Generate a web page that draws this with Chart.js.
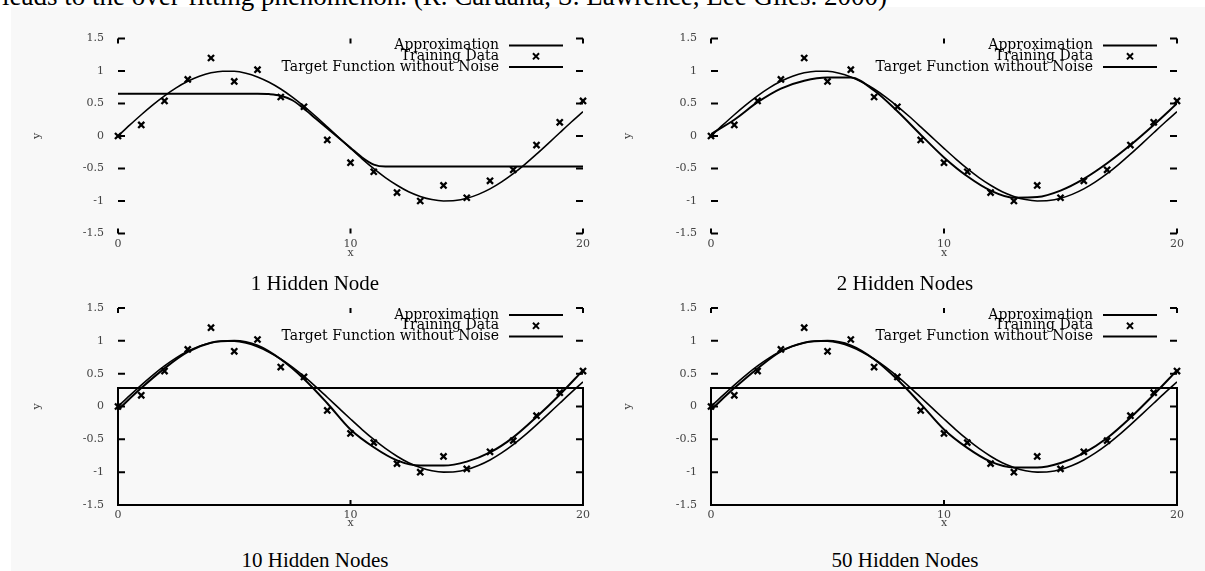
<!DOCTYPE html>
<html><head><meta charset="utf-8">
<script src="https://cdn.jsdelivr.net/npm/chart.js@4.4.1/dist/chart.umd.min.js"></script>
<style>
html,body{margin:0;padding:0;background:#fff;width:1205px;height:571px;overflow:hidden;position:relative;}
#panel{position:absolute;left:11px;top:7px;right:0;bottom:0;background:#f8f8f8;}
.cw{position:absolute;width:600px;height:270px;}
.title{position:absolute;width:300px;text-align:center;font-family:"Liberation Serif","Times New Roman",serif;font-size:21px;line-height:24px;color:#000;white-space:nowrap;}
#top{position:absolute;left:2px;top:-17px;white-space:nowrap;font-family:"Liberation Serif","Times New Roman",serif;font-size:27px;line-height:27px;color:#000;}
</style></head><body>
<div id="panel"></div>
<div id="top">leads to the over-fitting phenomenon. (R. Caruana, S. Lawrence, Lee Giles. 2000)</div>
<div class="cw" style="left:0;top:0"><canvas id="c0" width="600" height="270"></canvas></div>
<div class="cw" style="left:600px;top:0"><canvas id="c1" width="600" height="270"></canvas></div>
<div class="cw" style="left:0;top:270px"><canvas id="c2" width="600" height="270"></canvas></div>
<div class="cw" style="left:600px;top:270px"><canvas id="c3" width="600" height="270"></canvas></div>
<script>
// ---------- data ----------
const panelTitles = ['1 Hidden Node', '2 Hidden Nodes', '10 Hidden Nodes', '50 Hidden Nodes'];
const legendLabels = ['Approximation', 'Training Data', 'Target Function without Noise'];
const xAxisLabel = 'x';
const yAxisLabel = 'y';
const xTickLabels = ['0', '10', '20'];
const yTickLabels = ['-1.5', '-1', '-0.5', '0', '0.5', '1', '1.5'];

const trainX = [0,1,2,3,4,5,6,7,8,9,10,11,12,13,14,15,16,17,18,19,20];
const trainY = [0, 0.17, 0.54, 0.87, 1.2, 0.84, 1.02, 0.6, 0.45, -0.06, -0.41, -0.55, -0.87, -1.0, -0.76, -0.95, -0.69, -0.52, -0.14, 0.21, 0.54];

const targetX = [0,0.5,1,1.5,2,2.5,3,3.5,4,4.5,5,5.5,6,6.5,7,7.5,8,8.5,9,9.5,10,10.5,11,11.5,12,12.5,13,13.5,14,14.5,15,15.5,16,16.5,17,17.5,18,18.5,19,19.5,20];
const targetY = [0,0.166,0.327,0.479,0.618,0.74,0.841,0.919,0.972,0.997,0.995,0.966,0.909,0.827,0.723,0.598,0.457,0.304,0.141,-0.025,-0.19,-0.351,-0.502,-0.639,-0.757,-0.857,-0.929,-0.978,-0.999,-0.993,-0.959,-0.898,-0.814,-0.706,-0.58,-0.436,-0.279,-0.116,0.05,0.215,0.374];

const approx1X = [0, 6, 6.5, 7, 7.5, 8, 8.5, 9, 9.5, 10, 10.5, 11, 11.5, 20];
const approx1Y = [0.65, 0.65, 0.645, 0.62, 0.55, 0.42, 0.27, 0.12, -0.03, -0.18, -0.33, -0.44, -0.47, -0.47];

const approxX = [0,1,2,3,4,5,6,7,8,9,10,11,12,13,14,15,16,17,18,19,20];
const approx2Y  = [0.03, 0.25, 0.52, 0.73, 0.85, 0.90, 0.90, 0.70, 0.38, 0.02, -0.33, -0.62, -0.84, -0.95, -0.94, -0.84, -0.66, -0.42, -0.14, 0.17, 0.50];
const approx10Y = [-0.05, 0.28, 0.58, 0.83, 0.97, 1.00, 0.93, 0.72, 0.42, 0.05, -0.35, -0.62, -0.82, -0.90, -0.90, -0.84, -0.70, -0.47, -0.16, 0.18, 0.55];
const approx50Y = [-0.05, 0.28, 0.58, 0.84, 0.97, 1.00, 0.93, 0.72, 0.41, 0.04, -0.35, -0.63, -0.84, -0.93, -0.93, -0.86, -0.71, -0.48, -0.17, 0.18, 0.55];

// level of the partial frame drawn in the lower two panels (null = none)
const boxTops = [null, null, 0.28, 0.28];

const yMin = -1.5, yMax = 1.5, yStep = 0.5;
const xMin = 0, xMax = 20, xStep = 10;

// ---------- helpers ----------
const pts = (xs, ys) => xs.map((x, k) => ({x: x, y: ys[k]}));
const INK = '#000';
const tickFont = {family: '"DejaVu Serif", serif', size: 11};

const gnuPlugin = {
  id: 'gnu',
  afterDatasetsDraw(chart, args, opts) {
    const {ctx, chartArea: a, scales: {x, y}} = chart;
    ctx.save();
    ctx.strokeStyle = INK;
    ctx.lineWidth = 2;
    ctx.lineCap = 'butt';
    // inward mirrored ticks
    y.ticks.forEach(t => {
      const py = y.getPixelForValue(t.value);
      ctx.beginPath();
      ctx.moveTo(a.left, py); ctx.lineTo(a.left + 7, py);
      ctx.moveTo(a.right - 7, py); ctx.lineTo(a.right, py);
      ctx.stroke();
    });
    x.ticks.forEach(t => {
      const px = x.getPixelForValue(t.value);
      ctx.beginPath();
      ctx.moveTo(px, a.bottom); ctx.lineTo(px, a.bottom - 5);
      ctx.moveTo(px, a.top); ctx.lineTo(px, a.top + 5);
      ctx.stroke();
    });
    // partial frame
    if (opts.boxTop !== null && opts.boxTop !== undefined) {
      const pt = y.getPixelForValue(opts.boxTop);
      ctx.beginPath();
      ctx.rect(a.left, pt, a.right - a.left, a.bottom - pt);
      ctx.stroke();
    }
    // key
    const ds = chart.data.datasets;
    ctx.font = '14px "DejaVu Serif", serif';
    ctx.fillStyle = INK;
    ctx.textAlign = 'right';
    ctx.textBaseline = 'middle';
    const sEnd = a.right - 20, sStart = a.right - 74, tRight = a.right - 84;
    ds.forEach((d, k) => {
      const ry = a.top + 7 + k * 10.8;
      ctx.fillText(d.label, tRight, ry);
      if (d.showLine) {
        ctx.lineWidth = 2;
        ctx.beginPath(); ctx.moveTo(sStart, ry); ctx.lineTo(sEnd, ry); ctx.stroke();
      } else {
        Chart.helpers.drawPoint(ctx, {pointStyle: d.pointStyle, radius: d.pointRadius, borderWidth: d.borderWidth}, (sStart + sEnd) / 2, ry);
      }
    });
    ctx.restore();
  }
};

function makeChart(i, yAxisWidth, rightPad, axisH, topPad, yTitlePad, apX, apY) {
  const ctx = document.getElementById('c' + i).getContext('2d');
  return new Chart(ctx, {
    type: 'scatter',
    data: {datasets: [
      {label: legendLabels[0], data: pts(apX, apY), showLine: true, borderColor: INK, borderWidth: 2,
       pointRadius: 0, cubicInterpolationMode: 'monotone', fill: false},
      {label: legendLabels[1], data: pts(trainX, trainY), showLine: false, pointStyle: 'crossRot',
       pointRadius: 4.3, borderColor: INK, backgroundColor: INK, borderWidth: 2.3, clip: false},
      {label: legendLabels[2], data: pts(targetX, targetY), showLine: true, borderColor: INK, borderWidth: 1.6,
       pointRadius: 0, cubicInterpolationMode: 'monotone', fill: false}
    ]},
    options: {
      responsive: false, animation: false,
      layout: {padding: {top: topPad, right: rightPad, left: 0, bottom: 0}},
      plugins: {legend: {display: false}, tooltip: {enabled: false}, gnu: {boxTop: boxTops[i]}},
      scales: {
        x: {type: 'linear', min: xMin, max: xMax,
            ticks: {stepSize: xStep, padding: 4, font: tickFont, color: '#444', maxRotation: 0,
                    callback: (v, idx) => xTickLabels[idx]},
            grid: {display: false, drawTicks: false}, border: {display: false},
            title: {display: true, text: xAxisLabel, font: tickFont, color: '#444', padding: {top: 0, bottom: 10}},
            afterFit: s => { s.height = axisH; }},
        y: {type: 'linear', min: yMin, max: yMax,
            ticks: {stepSize: yStep, padding: 14, font: tickFont, color: '#444',
                    callback: (v, idx) => yTickLabels[idx]},
            grid: {display: false, drawTicks: false}, border: {display: false},
            title: {display: true, text: yAxisLabel, font: tickFont, color: '#444', padding: {top: yTitlePad, bottom: 0}},
            afterFit: s => { s.width = yAxisWidth; }}
      }
    },
    plugins: [gnuPlugin]
  });
}

makeChart(0, 118, 17, 36.5, 38.5, 31, approx1X, approx1Y);
makeChart(1, 111, 23, 36.5, 38.5, 22, approxX, approx2Y);
makeChart(2, 118, 17, 35, 38, 31, approxX, approx10Y);
makeChart(3, 111, 23, 35, 38, 22, approxX, approx50Y);

// panel captions
const centers = [[315, 283], [905, 283], [315, 560], [905, 560]];
panelTitles.forEach((t, i) => {
  const d = document.createElement('div');
  d.className = 'title';
  d.textContent = t;
  d.style.left = (centers[i][0] - 150) + 'px';
  d.style.top = (centers[i][1] - 12) + 'px';
  document.body.appendChild(d);
});
</script>
</body></html>
